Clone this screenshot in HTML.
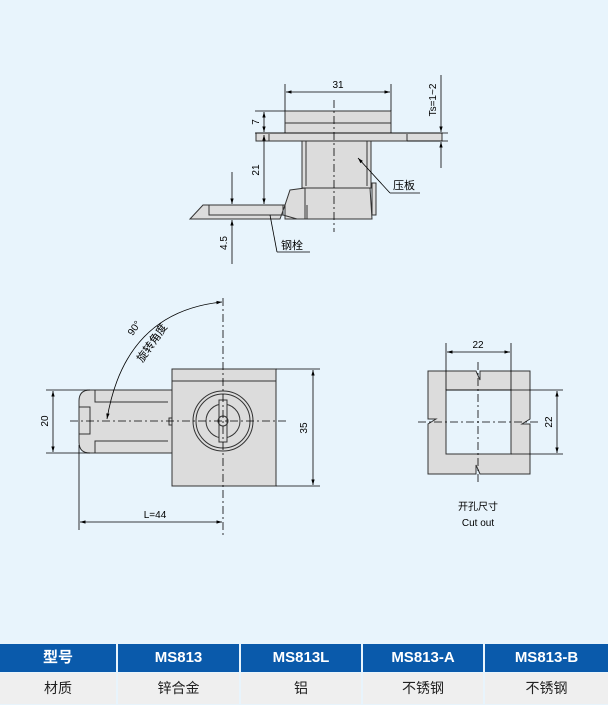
<!DOCTYPE html>
<html><head><meta charset="utf-8"><style>
html,body{margin:0;padding:0;background:#e8f4fc;}
body{width:608px;height:705px;position:relative;overflow:hidden;font-family:"Liberation Sans","Noto Sans CJK SC",sans-serif;}
svg{position:absolute;left:0;top:0;}
.c{position:absolute;text-align:center;box-sizing:border-box;}
.h{top:644px;height:28px;line-height:28px;background:#0a5aab;color:#fff;font-size:15px;font-weight:bold;}
.r{top:673px;height:31px;line-height:31px;background:#efefef;color:#222;font-size:14px;}
</style></head><body>
<svg width="608" height="644" viewBox="0 0 608 644" font-family="Liberation Sans, Noto Sans CJK SC, sans-serif">
<defs><marker id="a" viewBox="0 0 10 10" refX="10" refY="5" markerWidth="7" markerHeight="7" orient="auto-start-reverse"><path d="M0,2 L10,5 L0,8 z" fill="#000"/></marker></defs>
<g stroke="#333" stroke-width="1" fill="#dcdcdc">
<rect x="285" y="111" width="106" height="22"/>
<line x1="285" y1="123" x2="391" y2="123"/>
<rect x="256" y="133" width="186" height="8"/>
<line x1="269" y1="134" x2="269" y2="141"/><line x1="407" y1="134" x2="407" y2="141"/>
<rect x="302" y="141" width="69" height="47"/>
<line x1="306" y1="141" x2="306" y2="186"/><line x1="367" y1="141" x2="367" y2="186"/>
<rect x="372" y="183" width="4" height="32"/>
<path d="M290,190 L305,188 L370,188 L372,219 L305,219 L285,219 L285,205 Z"/>
<line x1="305" y1="188" x2="305" y2="219"/>
<path d="M190,219 L203,205 L285,205 L280,219 Z"/>
<rect x="209" y="205" width="74" height="10" fill="none"/>
<line x1="283" y1="215" x2="297" y2="219"/>
<line x1="307" y1="205" x2="307" y2="219"/>
<path d="M90,390 L172,390 L172,453 L90,453 Q79,453 79,442 L79,401 Q79,390 90,390 Z"/>
<rect x="79" y="407" width="11" height="27" fill="none"/>
<path d="M95,390 L95,402 L168,402 M95,453 L95,441 L168,441" fill="none"/>
<rect x="169" y="418" width="4" height="7"/>
<rect x="172" y="369" width="104" height="117"/>
<line x1="172" y1="381" x2="276" y2="381"/>
<circle cx="223" cy="421" r="30" fill="none"/>
<circle cx="223" cy="421" r="27" fill="none"/>
<circle cx="223" cy="421" r="17" fill="none"/>
<rect x="219" y="400" width="8" height="42" fill="#dcdcdc"/>
<circle cx="223" cy="421" r="5" fill="none"/>
<path d="M428,371 L476,371 L480,380 L480,371 L530,371 L530,419 L522,424 L530,424 L530,474 L480,474 L476,465 L476,474 L428,474 L428,424 L436,419 L428,419 Z"/>
<rect x="446" y="390" width="65" height="64" fill="#e8f4fc"/>
</g>
<g stroke="#000" stroke-width="0.8" fill="none">
<line x1="334" y1="100" x2="334" y2="232" stroke-dasharray="8,3,2,3"/>
<line x1="223" y1="298" x2="223" y2="538" stroke-dasharray="8,3,2,3"/>
<line x1="70" y1="421" x2="287" y2="421" stroke-dasharray="8,3,2,3"/>
<line x1="478" y1="362" x2="478" y2="484" stroke-dasharray="8,3,2,3"/>
<line x1="418" y1="422" x2="540" y2="422" stroke-dasharray="8,3,2,3"/>
<line x1="285" y1="84" x2="285" y2="111"/><line x1="391" y1="84" x2="391" y2="111"/>
<line x1="286" y1="92" x2="390" y2="92" marker-start="url(#a)" marker-end="url(#a)"/>
<line x1="255" y1="111" x2="285" y2="111"/><line x1="255" y1="133" x2="448" y2="133"/><line x1="407" y1="141" x2="448" y2="141"/>
<line x1="264" y1="112" x2="264" y2="132" marker-start="url(#a)" marker-end="url(#a)"/>
<line x1="264" y1="135" x2="264" y2="204" marker-start="url(#a)" marker-end="url(#a)"/>
<line x1="441" y1="75" x2="441" y2="132" marker-end="url(#a)"/><line x1="441" y1="142" x2="441" y2="168" marker-start="url(#a)"/>
<line x1="232" y1="172" x2="232" y2="204" marker-end="url(#a)"/><line x1="232" y1="220" x2="232" y2="264" marker-start="url(#a)"/>
<line x1="358" y1="158" x2="390" y2="193" marker-start="url(#a)"/><line x1="390" y1="193" x2="420" y2="193"/>
<line x1="270" y1="215" x2="277" y2="252"/><line x1="277" y1="252" x2="310" y2="252"/>
<line x1="46" y1="390" x2="90" y2="390"/><line x1="46" y1="453" x2="90" y2="453"/>
<line x1="53" y1="391" x2="53" y2="452" marker-start="url(#a)" marker-end="url(#a)"/>
<line x1="276" y1="369" x2="320" y2="369"/><line x1="276" y1="486" x2="320" y2="486"/>
<line x1="313" y1="370" x2="313" y2="485" marker-start="url(#a)" marker-end="url(#a)"/>
<line x1="79" y1="445" x2="79" y2="530"/>
<line x1="80" y1="522" x2="222" y2="522" marker-start="url(#a)" marker-end="url(#a)"/>
<path d="M222,302 Q125,312 107,419" marker-start="url(#a)" marker-end="url(#a)"/>
<line x1="446" y1="343" x2="446" y2="390"/><line x1="511" y1="343" x2="511" y2="390"/>
<line x1="447" y1="352" x2="510" y2="352" marker-start="url(#a)" marker-end="url(#a)"/>
<line x1="446" y1="390" x2="563" y2="390"/><line x1="511" y1="454" x2="563" y2="454"/>
<line x1="557" y1="391" x2="557" y2="453" marker-start="url(#a)" marker-end="url(#a)"/>
</g>
<g font-size="10" fill="#000">
<text x="338" y="88" text-anchor="middle">31</text>
<text transform="translate(259,122) rotate(-90)" text-anchor="middle">7</text>
<text transform="translate(259,170) rotate(-90)" text-anchor="middle">21</text>
<text transform="translate(227,243) rotate(-90)" text-anchor="middle">4.5</text>
<text transform="translate(436,100) rotate(-90)" text-anchor="middle">Ts=1~2</text>
<text x="393" y="189" font-size="11">压板</text>
<text x="281" y="249" font-size="11">钢栓</text>
<text transform="translate(48,421) rotate(-90)" text-anchor="middle">20</text>
<text transform="translate(307,428) rotate(-90)" text-anchor="middle">35</text>
<text x="155" y="518" text-anchor="middle">L=44</text>
<text transform="translate(137,330) rotate(-55)" text-anchor="middle">90°</text>
<text transform="translate(155,345) rotate(-55)" text-anchor="middle" font-size="11">旋转角度</text>
<text x="478" y="348" text-anchor="middle">22</text>
<text transform="translate(552,422) rotate(-90)" text-anchor="middle">22</text>
<text x="478" y="510" text-anchor="middle">开孔尺寸</text>
<text x="478" y="526" text-anchor="middle">Cut out</text>
</g>
</svg>
<div class="c h" style="left:0;width:116px">型号</div>
<div class="c h" style="left:118px;width:121px">MS813</div>
<div class="c h" style="left:241px;width:120px">MS813L</div>
<div class="c h" style="left:363px;width:120px">MS813-A</div>
<div class="c h" style="left:485px;width:123px">MS813-B</div>
<div class="c r" style="left:0;width:116px">材质</div>
<div class="c r" style="left:118px;width:121px">锌合金</div>
<div class="c r" style="left:241px;width:120px">铝</div>
<div class="c r" style="left:363px;width:120px">不锈钢</div>
<div class="c r" style="left:485px;width:123px">不锈钢</div>
</body></html>
